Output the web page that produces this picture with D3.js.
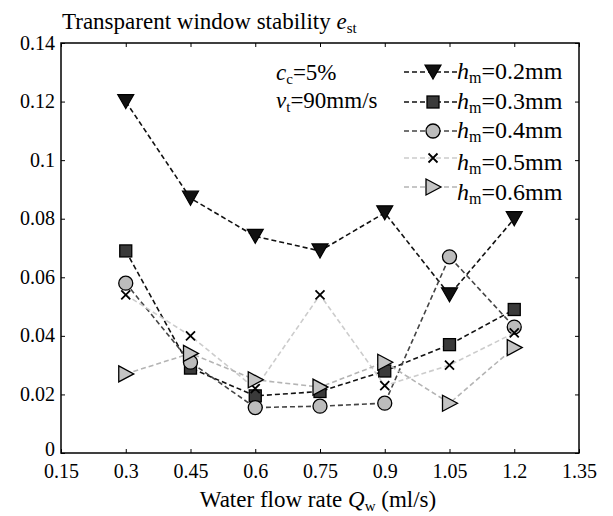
<!DOCTYPE html>
<html>
<head>
<meta charset="utf-8">
<script src="https://cdn.jsdelivr.net/npm/d3@7"></script>
<style>
  body { margin: 0; background: #fff; }
  svg, svg text { font-family: "Liberation Serif", "Times New Roman", Times, "DejaVu Serif", serif; }
</style>
</head>
<body>
<svg id="chart" width="613" height="516"></svg>
<script>
// ---- data ----
var flowRates = [0.3, 0.45, 0.6, 0.75, 0.9, 1.05, 1.2];
var xTicks = [0.15, 0.3, 0.45, 0.6, 0.75, 0.9, 1.05, 1.2, 1.35];
var yTicks = [0, 0.02, 0.04, 0.06, 0.08, 0.1, 0.12, 0.14];
var seriesNames = ["0.2mm", "0.3mm", "0.4mm", "0.5mm", "0.6mm"];
var h02 = [0.120, 0.087, 0.074, 0.069, 0.082, 0.054, 0.080];
var h03 = [0.069, 0.029, 0.0195, 0.021, 0.028, 0.037, 0.049];
var h04 = [0.058, 0.031, 0.0155, 0.016, 0.017, 0.067, 0.043];
var h05 = [0.054, 0.040, 0.022, 0.054, 0.023, 0.030, 0.041];
var h06 = [0.027, 0.034, 0.025, 0.0225, 0.031, 0.017, 0.036];

var series = [
  { name: seriesNames[0], values: h02, line: "#111", marker: "tridown", fill: "#111" },
  { name: seriesNames[1], values: h03, line: "#111", marker: "square",  fill: "#3a3a3a" },
  { name: seriesNames[2], values: h04, line: "#444", marker: "circle",  fill: "#bcbcbc" },
  { name: seriesNames[3], values: h05, line: "#cccccc", marker: "cross", fill: "none" },
  { name: seriesNames[4], values: h06, line: "#b4b4b4", marker: "triright", fill: "#c4c4c4" }
];

var FONT = "'Liberation Serif', 'Times New Roman', Times, 'DejaVu Serif', serif";

var svg = d3.select("#chart");
var margin = { left: 61, top: 43, right: 579, bottom: 453 };

var x = d3.scaleLinear().domain([0.15, 1.35]).range([margin.left, margin.right]);
var y = d3.scaleLinear().domain([0, 0.14]).range([margin.bottom, margin.top]);

// frame
svg.append("rect")
  .attr("x", margin.left).attr("y", margin.top)
  .attr("width", margin.right - margin.left)
  .attr("height", margin.bottom - margin.top)
  .attr("fill", "none").attr("stroke", "#000").attr("stroke-width", 1.5);

var fmt = function(d) { return d === 0 ? "0" : String(d); };

// axes (ticks pointing inwards)
var xAxis = svg.append("g").attr("transform", "translate(0," + margin.bottom + ")")
  .call(d3.axisBottom(x).tickValues(xTicks).tickFormat(fmt).tickSizeInner(-4).tickSizeOuter(0).tickPadding(9));
var xTop = svg.append("g").attr("transform", "translate(0," + margin.top + ")")
  .call(d3.axisTop(x).tickValues(xTicks).tickFormat("").tickSizeInner(-4).tickSizeOuter(0));
var yAxis = svg.append("g").attr("transform", "translate(" + margin.left + ",0)")
  .call(d3.axisLeft(y).tickValues(yTicks).tickFormat(fmt).tickSizeInner(-4).tickSizeOuter(0).tickPadding(6));
var yRight = svg.append("g").attr("transform", "translate(" + margin.right + ",0)")
  .call(d3.axisRight(y).tickValues(yTicks).tickFormat("").tickSizeInner(-4).tickSizeOuter(0));

[xAxis, xTop, yAxis, yRight].forEach(function(a) {
  a.attr("font-family", FONT);
  a.select(".domain").remove();
  a.selectAll("line").attr("stroke", "#000").attr("stroke-width", 1);
  a.selectAll("text").attr("font-family", FONT).attr("font-size", 20).attr("fill", "#000");
});
xAxis.selectAll("text").attr("dy", "0.8em");
yAxis.selectAll("text").attr("dy", "0.3em");
yAxis.selectAll(".tick").filter(function(d) { return d === 0; }).select("text").attr("dy", "0.1em");

// marker drawing
function drawMarker(g, type, fill, cx, cy) {
  if (type === "tridown") {
    g.append("path").attr("d", "M" + (cx - 8) + "," + (cy - 7) + "L" + (cx + 8) + "," + (cy - 7) + "L" + cx + "," + (cy + 7) + "Z")
      .attr("fill", fill).attr("stroke", "#000").attr("stroke-width", 1.2);
  } else if (type === "square") {
    g.append("rect").attr("x", cx - 6).attr("y", cy - 6).attr("width", 12).attr("height", 12)
      .attr("fill", fill).attr("stroke", "#000").attr("stroke-width", 1.3);
  } else if (type === "circle") {
    g.append("circle").attr("cx", cx).attr("cy", cy).attr("r", 7)
      .attr("fill", fill).attr("stroke", "#000").attr("stroke-width", 1.3);
  } else if (type === "cross") {
    g.append("path").attr("d", "M" + (cx - 4.5) + "," + (cy - 4.5) + "L" + (cx + 4.5) + "," + (cy + 4.5) +
        "M" + (cx - 4.5) + "," + (cy + 4.5) + "L" + (cx + 4.5) + "," + (cy - 4.5))
      .attr("stroke", "#000").attr("stroke-width", 1.8).attr("fill", "none");
  } else if (type === "triright") {
    g.append("path").attr("d", "M" + (cx - 7) + "," + (cy - 8) + "L" + (cx + 8) + "," + cy + "L" + (cx - 7) + "," + (cy + 8) + "Z")
      .attr("fill", fill).attr("stroke", "#000").attr("stroke-width", 1.3);
  }
}

var line = d3.line().x(function(d) { return x(d[0]); }).y(function(d) { return y(d[1]); });

// lines then markers, series order as in figure
series.forEach(function(s) {
  var pts = flowRates.map(function(q, i) { return [q, s.values[i]]; });
  svg.append("path").datum(pts).attr("d", line)
    .attr("fill", "none").attr("stroke", s.line).attr("stroke-width", 1.6)
    .attr("stroke-dasharray", "5,3");
  var g = svg.append("g");
  pts.forEach(function(p) { drawMarker(g, s.marker, s.fill, x(p[0]), y(p[1])); });
});

// helper for text with subscript
function subText(xp, yp, size, parts, anchor) {
  var t = svg.append("text").attr("x", xp).attr("y", yp).attr("font-size", size)
    .attr("font-family", FONT).attr("fill", "#000").attr("text-anchor", anchor || "start");
  parts.forEach(function(p) {
    var sp = t.append("tspan").text(p.t);
    if (p.i) sp.attr("font-style", "italic");
    if (p.sub) sp.attr("font-size", Math.round(size * 0.65)).attr("dy", 4);
    if (p.up) sp.attr("dy", -4);
  });
  return t;
}

// legend
var legendY = [72, 102, 131, 158, 187];
var legendTextDy = [7, 7, 7, 12, 13];
series.forEach(function(s, i) {
  var ly = legendY[i];
  svg.append("line").attr("x1", 404).attr("x2", 458).attr("y1", ly).attr("y2", ly)
    .attr("stroke", s.line).attr("stroke-width", 1.6).attr("stroke-dasharray", "5,3");
  var g = svg.append("g");
  drawMarker(g, s.marker, s.fill, 433, ly);
  subText(457, ly + legendTextDy[i], 24, [{ t: "h", i: true }, { t: "m", sub: true }, { t: "=" + s.name, up: true }]);
});

// annotations
subText(276, 80, 23, [{ t: "c", i: true }, { t: "c", sub: true }, { t: "=5%", up: true }]);
subText(276, 108, 23, [{ t: "v", i: true }, { t: "t", sub: true }, { t: "=90mm/s", up: true }]);

// title
subText(62, 29, 23, [{ t: "Transparent window stability " }, { t: "e", i: true }, { t: "st", sub: true }]);

// x label
subText(318, 507, 23, [{ t: "Water flow rate " }, { t: "Q", i: true }, { t: "w", sub: true }, { t: " (ml/s)", up: true }], "middle");
</script>
</body>
</html>
